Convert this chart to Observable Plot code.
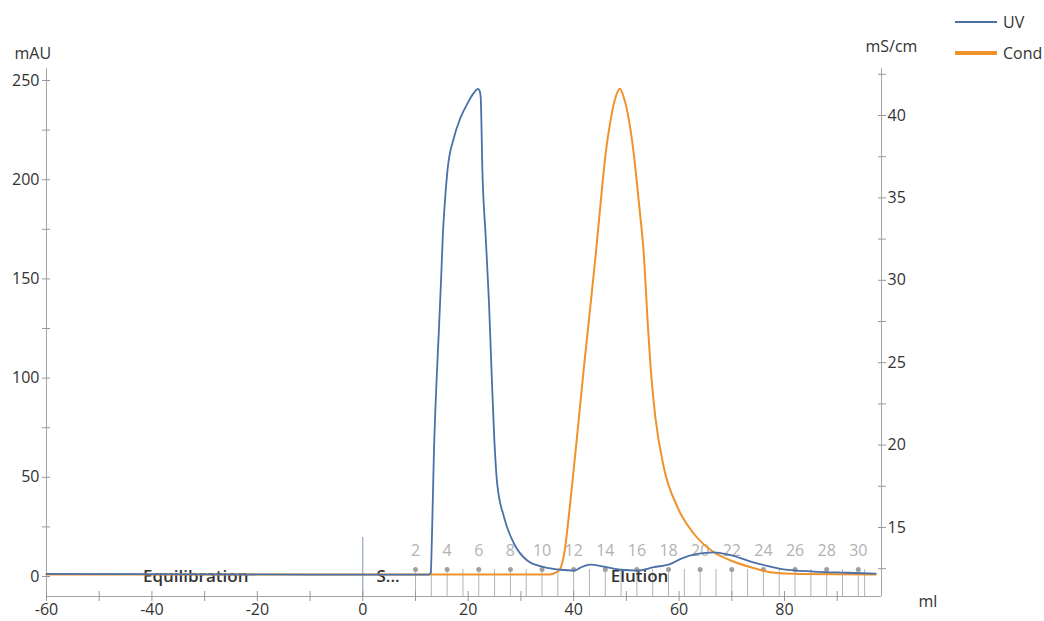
<!DOCTYPE html>
<html>
<head>
<meta charset="utf-8">
<script src="https://cdn.jsdelivr.net/npm/d3@7"></script>
<script src="https://cdn.jsdelivr.net/npm/@observablehq/plot@0.6"></script>
<style>
  html, body { margin: 0; padding: 0; background: #fff; }
  #wrap { position: relative; width: 1044px; height: 621px; font-family: "Open Sans", sans-serif; }
  .leg { position: absolute; left: 955px; display: flex; align-items: center; font-size: 16px; color: #333; }
  .leg span.sw { display: inline-block; width: 42px; margin-right: 6px; }
</style>
</head>
<body>
<div id="wrap">
  <div id="chart"></div>
  <div class="leg" style="top:11px"><span class="sw" style="height:2px;background:#4a70a8"></span>UV</div>
  <div class="leg" style="top:42px"><span class="sw" style="height:4px;background:#ef922b"></span>Cond</div>
</div>
<script>
// ---- data ----
const uvMl  = [-60, -30, 0, 12.5, 12.9, 13.1, 13.5, 14.0, 14.46, 14.92, 15.17, 15.55, 16.06, 17.31, 18.5, 19.85, 21.0, 21.86, 22.2, 22.37, 22.69, 23.32, 23.94, 24.4, 24.9, 25.5, 26.8, 28.7, 31.2, 34.4, 37.5, 40.1, 41.3, 43.2, 45.7, 48.9, 52.1, 55.2, 58.4, 60.3, 63.4, 66.6, 69.8, 73.6, 77.3, 79.2, 85.6, 91.9, 97.3];
const uvMAU = [1.3, 1.1, 0.9, 0.9, 2, 18, 63, 99, 125.5, 154, 171, 188, 204.6, 221.4, 231, 238.4, 243.5, 245.8, 244.5, 241.6, 204.6, 171, 138, 105.5, 72, 46.7, 29.9, 16.5, 8.1, 4.7, 3.4, 3.0, 4.5, 6.0, 5.0, 3.4, 3.0, 4.7, 6.4, 8.9, 11.4, 12.2, 10.8, 7.5, 5.0, 3.9, 2.5, 1.9, 1.4];

const condMl = [-60, 35.3, 37.2, 38.2, 39.4, 40.7, 41.95, 43.0, 44.2, 45.1, 46.07, 47.0, 47.96, 48.78, 49.5, 50.5, 51.4, 52.4, 53.3, 54.1, 54.6, 55.5, 57.1, 59.7, 62.8, 66.6, 69.8, 73.6, 77.3, 83, 97.3];
const condMS = [12.15, 12.15, 12.39, 13.4, 16.64, 20.69, 24.73, 27.9, 31.6, 34.64, 37.68, 39.7, 41.11, 41.62, 41.11, 39.7, 37.68, 34.64, 31.6, 27.15, 24.73, 21.69, 18.66, 16.23, 14.62, 13.5, 13.0, 12.59, 12.29, 12.18, 12.15];

const fracLineMl = [10, 13, 16, 19, 22, 25, 28, 31, 34, 37, 40, 43, 46, 49, 52, 55, 58, 61, 64, 67, 70, 73, 76, 79, 82, 85, 88, 91, 94, 95.2];
const fracLabelMl = [10, 16, 22, 28, 34, 40, 46, 52, 58, 64, 70, 76, 82, 88, 94];
const fracLabels = ["2", "4", "6", "8", "10", "12", "14", "16", "18", "20", "22", "24", "26", "28", "30"];

const phaseNames = ["Equilibration", "S...", "Elution"];
const phaseMl = [-31.7, 4.8, 52.5];
const injectMl = [0];

const xTicks = [-60, -50, -40, -30, -20, -10, 0, 10, 20, 30, 40, 50, 60, 70, 80, 90];
const yTicks = [0, 25, 50, 75, 100, 125, 150, 175, 200, 225, 250];
const condTicks = [12.5, 15, 17.5, 20, 22.5, 25, 27.5, 30, 32.5, 35, 37.5, 40, 42.5];

// ---- scales ----
const xMin = -60, xMax = 98.4;
const yMin = -10.08, yMax = 256.05;
const cMin = 10.813, cMax = 42.852;
const toMAU = c => yMin + (c - cMin) / (cMax - cMin) * (yMax - yMin);
const fromMAU = m => cMin + (m - yMin) / (yMax - yMin) * (cMax - cMin);

const uv = uvMl.map((x, i) => ({x, y: uvMAU[i]}));
const cond = condMl.map((x, i) => ({x, y: toMAU(condMS[i])}));
const fracLines = fracLineMl.map(x => ({x}));
const fracLab = fracLabelMl.map((x, i) => ({x, t: fracLabels[i]}));
const phases = phaseMl.map((x, i) => ({x, t: phaseNames[i]}));

const axisCol = "#a3a3a3";
const textCol = "#333";
const fracTop = 3.5;

const chart = Plot.plot({
  width: 1044,
  height: 621,
  marginTop: 68,
  marginBottom: 25,
  marginLeft: 46,
  marginRight: 163,
  style: {fontFamily: "Open Sans, sans-serif", fontSize: "16px", background: "#fff", overflow: "visible"},
  x: {domain: [xMin, xMax], axis: null},
  y: {domain: [yMin, yMax], axis: null},
  marks: [
    // fraction marks
    Plot.ruleX(fracLines, {x: "x", y1: yMin, y2: fracTop, stroke: "#b4b4b4", strokeWidth: 1}),
    Plot.dot(fracLab, {x: "x", y: fracTop, r: 2.5, fill: "#a0a0a0", stroke: null}),
    Plot.text(fracLab, {x: "x", frameAnchor: "bottom", dy: -41, text: "t", fill: "#b2b2b2", fontSize: 16}),
    // injection marker
    Plot.ruleX(injectMl, {x: d => d, insetTop: 469, stroke: "#7d93b8", strokeWidth: 1}),
    // phase labels
    Plot.text(phases, {x: "x", frameAnchor: "bottom", dy: -15, text: "t", fill: textCol, fontSize: 17, fontWeight: 600}),
    // axes lines
    Plot.ruleX([xMin, xMax], {stroke: axisCol}),
    Plot.ruleY([yMin], {stroke: axisCol}),
    // left axis
    Plot.axisY(yTicks, {anchor: "left", tickSize: 4, tickPadding: 3, stroke: "#999", fill: textCol, fontSize: 16, label: null, tickFormat: d => d % 50 === 0 ? d : ""}),
    Plot.axisY(yTicks, {anchor: "left", tickSize: 4, dx: 4, stroke: "#999", label: null, tickFormat: () => ""}),
    // right axis
    Plot.axisY(condTicks.map(toMAU), {anchor: "right", tickSize: 4, tickPadding: 2, stroke: "#999", fill: textCol, fontSize: 16, label: null,
      tickFormat: d => { const c = Math.round(fromMAU(d) * 10) / 10; return c % 5 === 0 ? c : ""; }}),
    Plot.axisY(condTicks.map(toMAU), {anchor: "right", tickSize: 4, dx: -4, stroke: "#999", label: null, tickFormat: () => ""}),
    // x axis
    Plot.axisX(xTicks, {anchor: "bottom", tickSize: 5, tickPadding: 2, stroke: "#999", fill: textCol, fontSize: 16, label: null, tickFormat: d => d % 20 === 0 ? d : ""}),
    Plot.axisX(xTicks, {anchor: "bottom", tickSize: 5, dy: -5, stroke: "#999", label: null, tickFormat: () => ""}),
    // axis titles
    Plot.text(["mAU"], {frameAnchor: "top-left", dx: -32, dy: -21, textAnchor: "start", fill: textCol, fontSize: 16}),
    Plot.text(["mS/cm"], {frameAnchor: "top-right", dx: -16, dy: -28, textAnchor: "start", fill: textCol, fontSize: 16}),
    Plot.text(["ml"], {frameAnchor: "bottom-right", dx: 37, dy: 10, textAnchor: "start", fill: textCol, fontSize: 16}),
    // curves
    Plot.line(cond, {x: "x", y: "y", stroke: "#ef922b", strokeWidth: 2, curve: "monotone-x"}),
    Plot.line(uv, {x: "x", y: "y", stroke: "#4a70a8", strokeWidth: 1.8, curve: "monotone-x"})
  ]
});
document.getElementById("chart").appendChild(chart);
</script>
</body>
</html>
